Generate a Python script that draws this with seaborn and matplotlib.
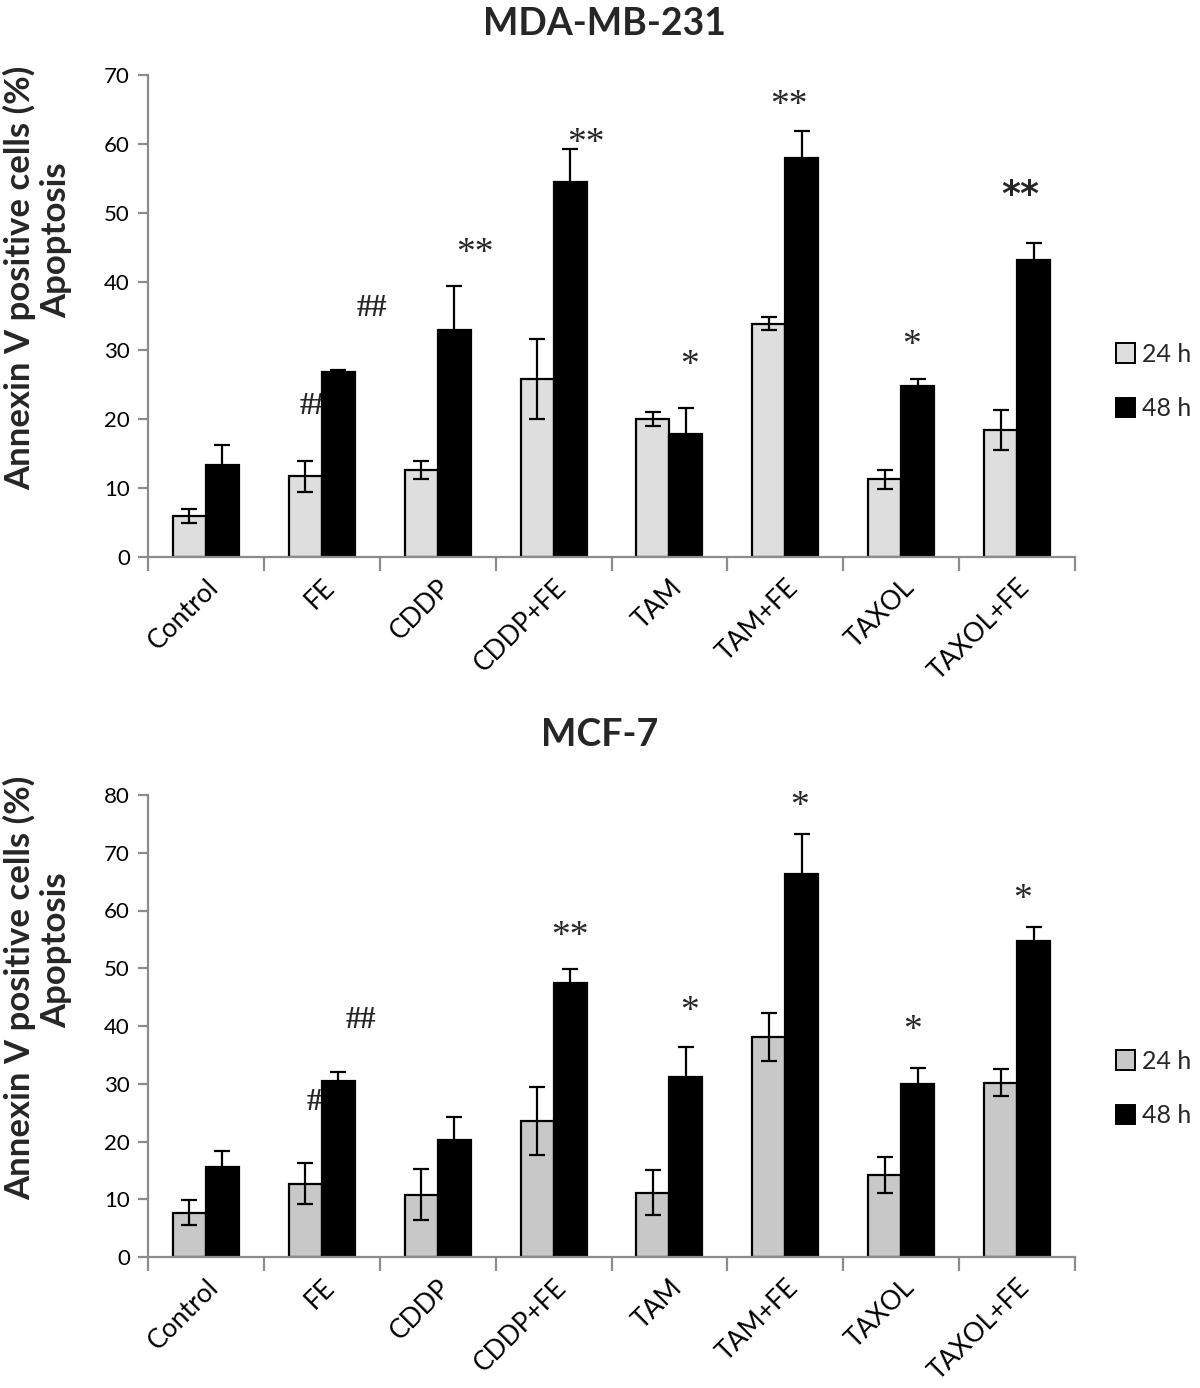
import numpy as np
import pandas as pd
import matplotlib
matplotlib.use("Agg")
import matplotlib.pyplot as plt
from matplotlib.patches import Patch
import seaborn as sns

categories = ["Control", "FE", "CDDP", "CDDP+FE", "TAM", "TAM+FE", "TAXOL", "TAXOL+FE"]
times = ["24 h", "48 h"]

# MDA-MB-231
mda_24 = [5.9, 11.7, 12.7, 25.9, 20.0, 33.9, 11.3, 18.4]
mda_24_err = [1.0, 2.3, 1.3, 5.8, 1.0, 1.0, 1.4, 2.9]
mda_48 = [13.4, 26.9, 33.0, 54.5, 17.9, 57.9, 24.8, 43.2]
mda_48_err = [2.8, 0.2, 6.4, 4.7, 3.7, 3.9, 1.0, 2.4]

# MCF-7
mcf_24 = [7.7, 12.7, 10.8, 23.5, 11.1, 38.1, 14.2, 30.2]
mcf_24_err = [2.1, 3.5, 4.4, 5.9, 3.9, 4.1, 3.1, 2.4]
mcf_48 = [15.6, 30.4, 20.3, 47.5, 31.1, 66.4, 30.0, 54.8]
mcf_48_err = [2.7, 1.6, 3.9, 2.3, 5.3, 6.9, 2.7, 2.4]

# significance marks: (category, label)
mda_marks = [("FE", "##"), ("FE", "##"), ("CDDP", "**"), ("CDDP+FE", "**"),
             ("TAM", "*"), ("TAM+FE", "**"), ("TAXOL", "*"), ("TAXOL+FE", "**")]
mda_mark_y = [21.8, 36.1, 44.0, 60.0, 27.8, 65.5, 30.7, 52.5]
mcf_marks = [("FE", "##"), ("FE", "##"), ("CDDP+FE", "**"), ("TAM", "*"),
             ("TAM+FE", "*"), ("TAXOL", "*"), ("TAXOL+FE", "*")]
mcf_mark_y = [26.7, 40.9, 55.4, 42.5, 77.9, 39.2, 61.8]

sns.set_theme(style="white")
plt.rcParams["font.family"] = ["Lato", "DejaVu Sans"]

W, H = 1200, 1388
fig = plt.figure(figsize=(W / 100, H / 100), dpi=100)
ax1 = fig.add_axes([148 / W, 1 - 557 / H, 927 / W, 482 / H])
ax2 = fig.add_axes([148 / W, 1 - 1257 / H, 927 / W, 462 / H])

GRAY = "#8c8c8c"


def draw(ax, v24, e24, v48, e48, c24, ymax, marks, mark_y, mark_dx, hidden, sans_idx):
    df = pd.DataFrame({
        "Treatment": categories * 2,
        "Time": [times[0]] * len(categories) + [times[1]] * len(categories),
        "Value": list(v24) + list(v48),
    })
    sns.barplot(data=df, x="Treatment", y="Value", hue="Time", order=categories,
                hue_order=times, palette={times[0]: c24, times[1]: "black"},
                edgecolor="black", linewidth=1.6, width=0.57, errorbar=None,
                ax=ax, legend=False, zorder=2)
    for cont, errs in zip(ax.containers, [e24, e48]):
        xs = [p.get_x() + p.get_width() / 2 for p in cont]
        ys = [p.get_height() for p in cont]
        ax.errorbar(xs, ys, yerr=errs, fmt="none", ecolor="black", elinewidth=1.6,
                    capsize=5.5, capthick=1.6, zorder=3)
    for i, ((cat, s), y) in enumerate(zip(marks, mark_y)):
        x = categories.index(cat) + mark_dx[i]
        if s.startswith("#"):
            ax.text(x, y, s, ha="center", va="center", fontsize=22, fontweight="bold",
                    family=["Liberation Serif"], zorder=1 if i in hidden else 4)
        elif i in sans_idx:
            ax.text(x, y, s, ha="center", va="center", fontsize=26, fontweight="bold",
                    family=["DejaVu Sans"], zorder=4)
        else:
            ax.text(x, y, s, ha="center", va="center", fontsize=27,
                    family=["Liberation Serif"], zorder=4)

    ax.set_xlim(-0.5, len(categories) - 0.5)
    ax.set_ylim(0, ymax)
    ax.set_yticks(np.arange(0, ymax + 1, 10))
    ax.set_xticks(np.arange(-0.5, len(categories), 1.0))
    ax.set_xticklabels([""] * (len(categories) + 1))
    ax.set_xticks(np.arange(len(categories)), minor=True)
    ax.set_xticklabels(categories, minor=True, rotation=45, ha="right",
                       rotation_mode="anchor")
    ax.set_xlabel("")
    ax.set_ylabel("")
    for sp in ["top", "right"]:
        ax.spines[sp].set_visible(False)
    for sp in ["left", "bottom"]:
        ax.spines[sp].set_color(GRAY)
        ax.spines[sp].set_linewidth(1.6)
    ax.tick_params(axis="y", left=True, direction="out", length=7, width=1.6,
                   color=GRAY, labelsize=16, pad=6, labelcolor="black")
    ax.tick_params(axis="x", which="major", bottom=True, direction="out", length=10,
                   width=1.6, color=GRAY)
    ax.tick_params(axis="x", which="minor", bottom=True, length=0, pad=13,
                   labelsize=19, labelcolor="black")


draw(ax1, mda_24, mda_24_err, mda_48, mda_48_err, "#dedede", 70,
     mda_marks, mda_mark_y, [-0.06, 0.43, 0.32, 0.28, 0.17, 0.03, 0.09, 0.03],
     hidden={0}, sans_idx={7})
draw(ax2, mcf_24, mcf_24_err, mcf_48, mcf_48_err, "#c8c8c8", 80,
     mcf_marks, mcf_mark_y, [0.0, 0.34, 0.14, 0.17, 0.12, 0.10, 0.05],
     hidden={0}, sans_idx=set())

# titles
fig.text(605 / W, 1 - 24 / H, "MDA-MB-231", ha="center", va="center",
         fontsize=27, fontweight="bold")
fig.text(600 / W, 1 - 735 / H, "MCF-7", ha="center", va="center",
         fontsize=27, fontweight="bold")

# y labels
for yc in (316, 1026):
    fig.text(20 / W, 1 - (yc - 38) / H, "Annexin V positive cells (%)", rotation=90,
             ha="center", va="center", fontsize=25, fontweight="bold")
    fig.text(56 / W, 1 - (yc - 76) / H, "Apoptosis", rotation=90,
             ha="center", va="center", fontsize=25, fontweight="bold")

# legends
for ax, c24, yc in ((ax1, "#dedede", 381.5), (ax2, "#c8c8c8", 1088.5)):
    handles = [Patch(facecolor=c24, edgecolor="black", linewidth=1.4),
               Patch(facecolor="black", edgecolor="black", linewidth=1.4)]
    ax.legend(handles, times, loc="center left",
              bbox_to_anchor=(1116 / W, 1 - yc / H), bbox_transform=fig.transFigure,
              frameon=False, fontsize=18, handlelength=0.75, handleheight=0.85,
              handletextpad=0.3, labelspacing=1.25, borderpad=0, borderaxespad=0)

fig.savefig("out.png", dpi=100)
